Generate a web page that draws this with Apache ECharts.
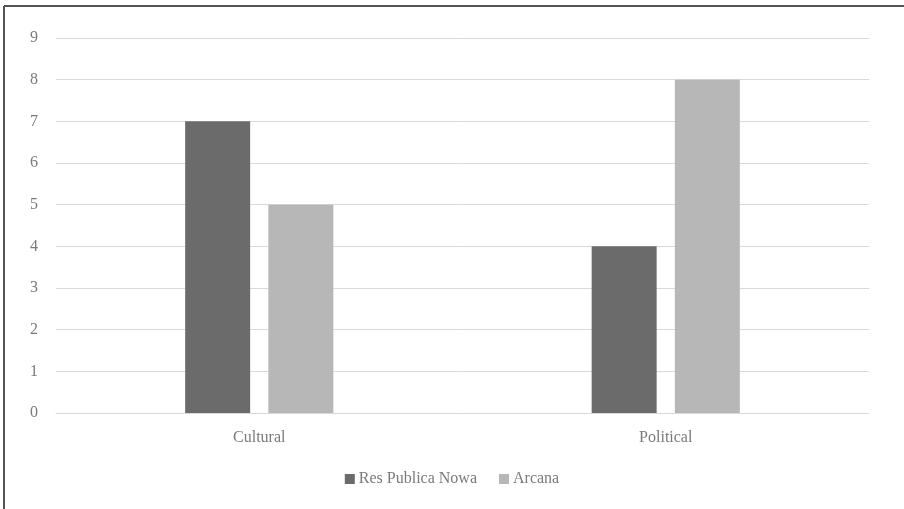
<!DOCTYPE html>
<html>
<head>
<meta charset="utf-8">
<script src="https://cdn.jsdelivr.net/npm/echarts@6/dist/echarts.min.js"></script>
<style>
html,body{margin:0;padding:0;background:#fff;}
#chart{width:904px;height:509px;}
</style>
</head>
<body>
<div id="chart"></div>
<script>
const categories = ['Cultural', 'Political'];
const seriesNames = ['Res Publica Nowa', 'Arcana'];
const resPublicaNowa = [7, 4];
const arcana = [5, 8];
const yTicks = [0, 1, 2, 3, 4, 5, 6, 7, 8, 9];

const font = '"Liberation Serif", "DejaVu Serif", serif';
const textColor = '#7a7a7a';

const chart = echarts.init(document.getElementById('chart'), null, {renderer: 'canvas'});
chart.setOption({
  backgroundColor: '#fff',
  animation: false,
  textStyle: {fontFamily: font},
  graphic: [
    {type: 'line', shape: {x1: 4, y1: 6, x2: 904, y2: 6}, style: {stroke: '#555', lineWidth: 2}},
    {type: 'line', shape: {x1: 4, y1: 6, x2: 4, y2: 509}, style: {stroke: '#555', lineWidth: 2}}
  ],
  grid: {left: 56, right: 35, top: 38, bottom: 96, containLabel: false},
  legend: {
    bottom: 17,
    left: 'center',
    itemWidth: 10,
    itemHeight: 10,
    itemGap: 22,
    icon: 'rect',
    textStyle: {fontFamily: font, fontSize: 16, color: textColor, padding: [0, 0, 0, -1]},
    data: seriesNames
  },
  xAxis: {
    type: 'category',
    data: categories,
    axisLine: {show: true, lineStyle: {color: '#d9d9d9', width: 1}},
    axisTick: {show: false},
    axisLabel: {fontFamily: font, fontSize: 16, color: textColor, margin: 17}
  },
  yAxis: {
    type: 'value',
    min: yTicks[0],
    max: yTicks[yTicks.length - 1],
    interval: 1,
    axisLine: {show: false},
    axisTick: {show: false},
    splitLine: {lineStyle: {color: '#d9d9d9', width: 1}},
    axisLabel: {fontFamily: font, fontSize: 16, color: textColor, margin: 18}
  },
  series: [
    {name: seriesNames[0], type: 'bar', data: resPublicaNowa, barWidth: 65, barGap: '28%', itemStyle: {color: '#6b6b6b'}},
    {name: seriesNames[1], type: 'bar', data: arcana, barWidth: 65, barGap: '28%', itemStyle: {color: '#b7b7b7'}}
  ]
});
</script>
</body>
</html>
